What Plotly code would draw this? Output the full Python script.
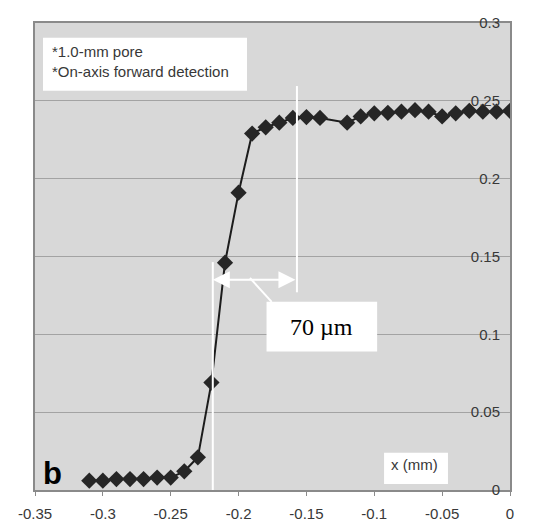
import plotly.graph_objects as go

# ---- data ----
x_mm = [-0.31, -0.30, -0.29, -0.28, -0.27, -0.26, -0.25, -0.24, -0.23, -0.22,
        -0.21, -0.20, -0.19, -0.18, -0.17, -0.16, -0.15, -0.14, -0.12, -0.11,
        -0.10, -0.09, -0.08, -0.07, -0.06, -0.05, -0.04, -0.03, -0.02, -0.01, 0.0]
signal = [0.006, 0.006, 0.007, 0.007, 0.007, 0.008, 0.008, 0.012, 0.021, 0.069,
          0.146, 0.191, 0.229, 0.233, 0.236, 0.239, 0.2396, 0.239, 0.236, 0.240,
          0.242, 0.2423, 0.243, 0.244, 0.243, 0.240, 0.242, 0.2436, 0.243, 0.243, 0.2436]

x_tickvals = [-0.35, -0.3, -0.25, -0.2, -0.15, -0.1, -0.05, 0]
x_ticktext = ["-0.35", "-0.3", "-0.25", "-0.2", "-0.15", "-0.1", "-0.05", "0"]
y_tickvals = [0, 0.05, 0.1, 0.15, 0.2, 0.25, 0.3]
y_ticktext = ["0", "0.05", "0.1", "0.15", "0.2", "0.25", "0.3"]

note_lines = ["*1.0-mm pore", "*On-axis forward detection"]
width_label = "70 µm"
x_label = "x (mm)"
panel_label = "b"

# marker positions (data units) for the 70 um annotation
edge_left = -0.219
edge_right = -0.157

SANS = "Liberation Sans, Arial, sans-serif"
SERIF = "Liberation Serif, Times New Roman, serif"
TXT = "#383838"

fig = go.Figure()
fig.add_trace(go.Scatter(
    x=x_mm, y=signal, mode="lines+markers",
    line=dict(color="#1c1c1c", width=2),
    marker=dict(symbol="diamond", size=12.5, color="#262626"),
    showlegend=False, hoverinfo="skip"))

shapes = [
    # white guide lines
    dict(type="line", xref="x", yref="y", x0=edge_right, x1=edge_right, y0=0.127, y1=0.2595,
         line=dict(color="white", width=2), layer="above"),
    dict(type="line", xref="x", yref="y", x0=edge_left, x1=edge_left, y0=0.0, y1=0.1464,
         line=dict(color="white", width=2), layer="above"),
    # leader line to label box
    dict(type="line", xref="x", yref="y", x0=-0.1916, x1=-0.1756, y0=0.1362, y1=0.1209,
         line=dict(color="white", width=2), layer="above"),
    # label box 70 um
    dict(type="rect", xref="x", yref="y", x0=-0.1794, x1=-0.0979, y0=0.0889, y1=0.1209,
         fillcolor="white", line=dict(width=0), layer="above"),
    # notes box
    dict(type="rect", xref="x", yref="y", x0=-0.3500 + 0.0059, x1=-0.3500 + 0.1562, y0=0.2565, y1=0.2905,
         fillcolor="white", line=dict(width=0), layer="above"),
    # x label box
    dict(type="rect", xref="x", yref="y", x0=-0.0928, x1=-0.0457, y0=0.0039, y1=0.024,
         fillcolor="white", line=dict(width=0), layer="above"),
]

annotations = [
    dict(x=edge_left, y=0.135, ax=edge_right, ay=0.135, xref="x", yref="y", axref="x", ayref="y",
         text="", showarrow=True, arrowhead=2, startarrowhead=2, arrowside="end+start",
         arrowsize=1.7, startarrowsize=1.7, arrowwidth=2, arrowcolor="white",
         standoff=0, startstandoff=0),
    dict(x=-0.1387, y=0.1049, xref="x", yref="y", text=width_label, showarrow=False,
         font=dict(family=SERIF, size=24, color="black"), xanchor="center", yanchor="middle"),
    dict(x=-0.3500 + 0.0110, y=0.2752 + 0.0064, xref="x", yref="y", text=note_lines[0], showarrow=False,
         font=dict(family=SANS, size=15, color=TXT), xanchor="left", yanchor="middle"),
    dict(x=-0.3500 + 0.0110, y=0.2752 - 0.0064, xref="x", yref="y", text=note_lines[1], showarrow=False,
         font=dict(family=SANS, size=15, color=TXT), xanchor="left", yanchor="middle"),
    dict(x=-0.0892, y=0.0161, xref="x", yref="y", text=x_label, showarrow=False,
         font=dict(family=SANS, size=15, color=TXT), xanchor="left", yanchor="middle"),
    dict(x=-0.3368, y=0.0105, xref="x", yref="y", text="<b>" + panel_label + "</b>", showarrow=False,
         font=dict(family=SANS, size=31, color="black"), xanchor="center", yanchor="middle"),
]

fig.update_layout(
    width=540, height=523,
    margin=dict(l=35, r=30, t=23, b=33, pad=0, autoexpand=False),
    paper_bgcolor="white", plot_bgcolor="#d8d8d8",
    shapes=shapes, annotations=annotations,
    xaxis=dict(range=[-0.35, 0], tickvals=x_tickvals, ticktext=x_ticktext,
               showgrid=False, zeroline=False, showline=True, mirror=True,
               linecolor="#8a8a8a", linewidth=2, ticks="outside", ticklen=4,
               tickcolor="#8a8a8a", tickwidth=1, ticklabelstandoff=5, automargin=False,
               tickfont=dict(family=SANS, size=15, color=TXT)),
    yaxis=dict(range=[0, 0.3], tickvals=y_tickvals, ticktext=y_ticktext, side="right",
               ticklabelposition="inside", ticklabeloverflow="allow", ticklabelstandoff=10,
               automargin=False,
               showgrid=True, gridcolor="#a3a3a3", gridwidth=1, zeroline=False,
               showline=True, mirror=True, linecolor="#8a8a8a", linewidth=2, ticks="",
               tickfont=dict(family=SANS, size=15, color=TXT)),
)

fig.write_html("out.html")
